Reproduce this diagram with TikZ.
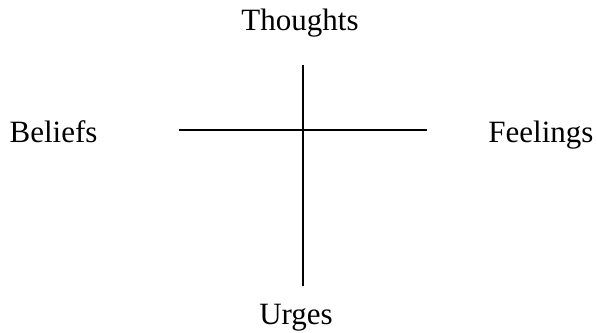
\documentclass[tikz,border=0pt]{standalone}
\usepackage{fontspec}
\setmainfont{Liberation Serif}
\begin{document}
\begin{tikzpicture}[x=1pt,y=-1pt,
  lbl/.style={inner sep=0pt,anchor=base,font=\fontsize{31}{37}\selectfont},
  axis/.style={line width=1.1pt,black}]
\useasboundingbox (0,0) rectangle (597,332);
\node[lbl] (thoughts) at (300,30) {Thoughts};
\node[lbl] (urges) at (296,324) {Urges};
\node[lbl] (beliefs) at (53.5,142.7) {Beliefs};
\node[lbl] (feelings) at (541,142.7) {Feelings};
\coordinate (vt) at (303,65);
\coordinate (vb) at (303,286);
\coordinate (hl) at (179,130);
\coordinate (hr) at (427,130);
\draw[axis] (vt) -- (vb);
\draw[axis] (hl) -- (hr);
\end{tikzpicture}
\end{document}
